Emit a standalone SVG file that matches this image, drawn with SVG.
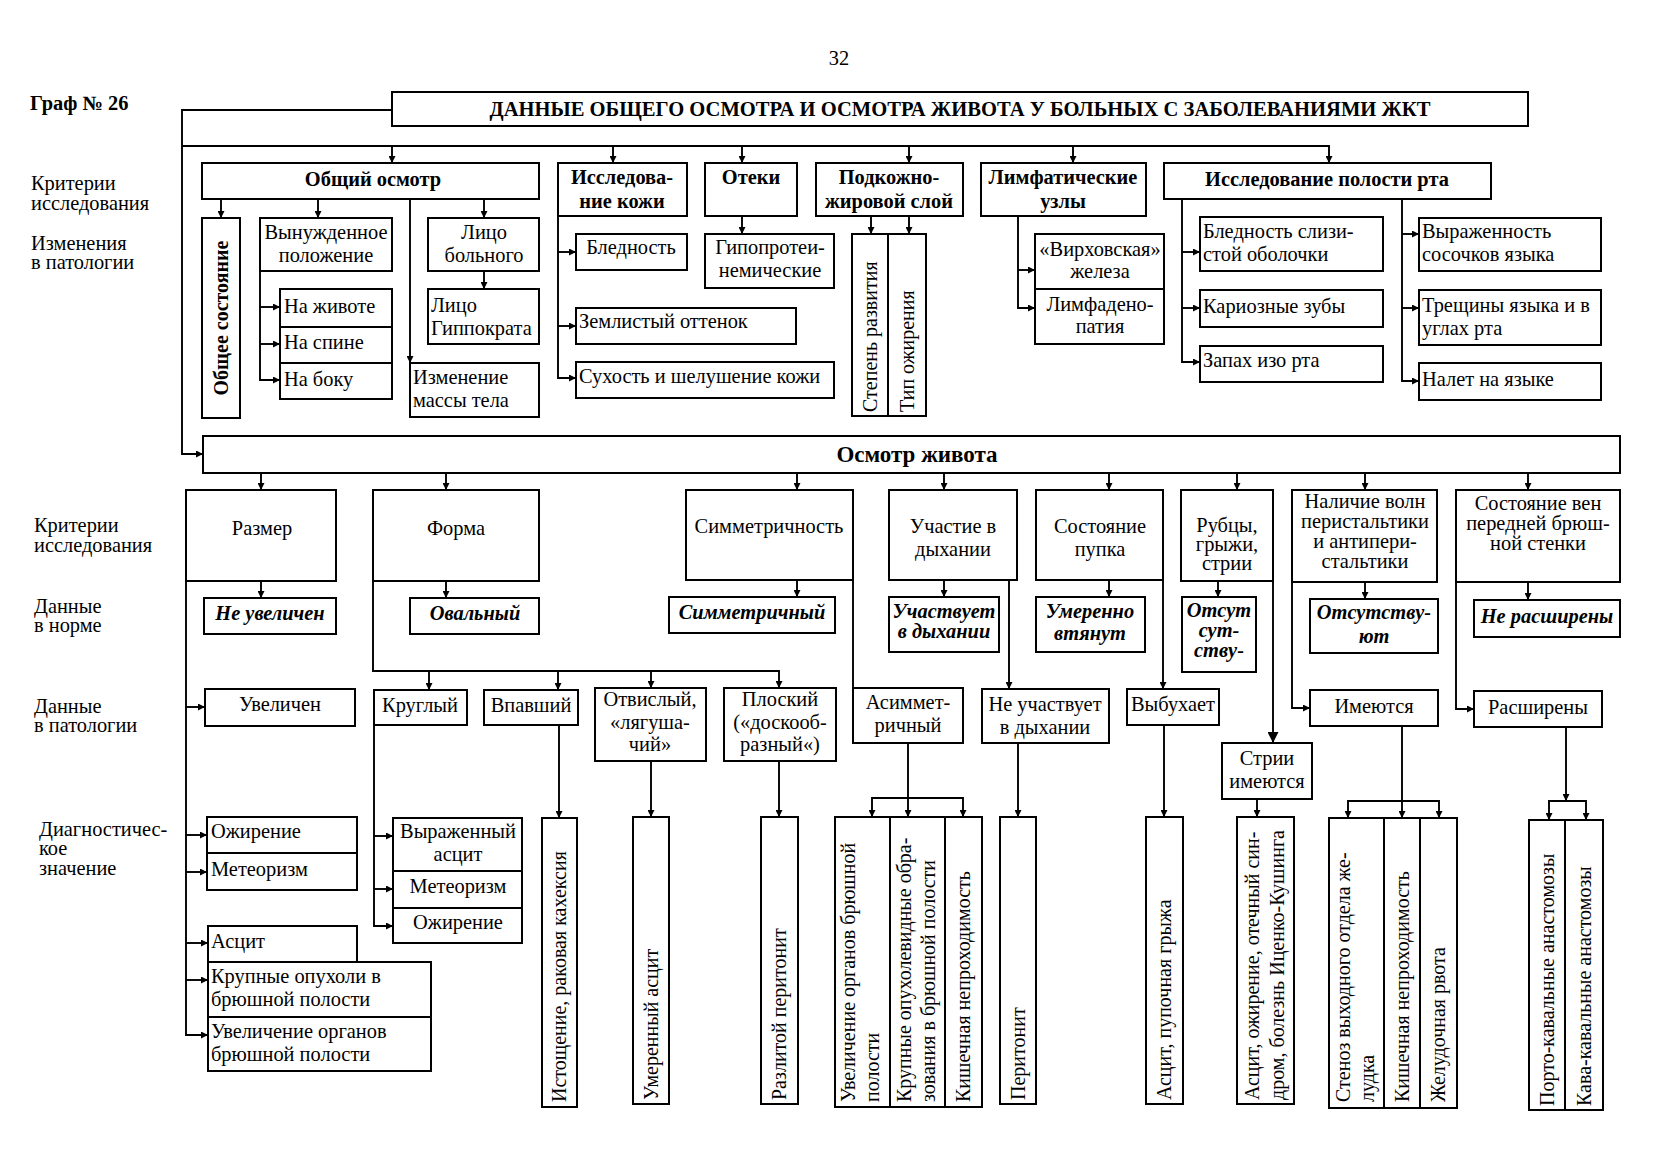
<svg xmlns="http://www.w3.org/2000/svg" width="1678" height="1164" viewBox="0 0 1678 1164">
<defs>
<marker id="arr" viewBox="0 0 10 10" refX="10" refY="5" markerWidth="9" markerHeight="7" orient="auto" markerUnits="userSpaceOnUse"><path d="M0,0 L10,5 L0,10 z" fill="#000"/></marker>
<marker id="arrb" viewBox="0 0 10 10" refX="10" refY="5" markerWidth="14" markerHeight="11" orient="auto" markerUnits="userSpaceOnUse"><path d="M0,0 L10,5 L0,10 z" fill="#000"/></marker>
</defs>
<style>
.b{fill:#fff;stroke:#000;stroke-width:2}
.c{fill:none;stroke:#000;stroke-width:1.9;marker-end:url(#arr)}
.l{fill:none;stroke:#000;stroke-width:1.9}
text{font-family:"Liberation Serif","Times New Roman",serif;font-size:20.4px;fill:#000}
text[transform]{font-size:20px}
.m{text-anchor:middle}
.bd{font-weight:bold}
.bi{font-weight:bold;font-style:italic}
</style>
<rect width="1678" height="1164" fill="#fff"/>

<g id="labels">
<text x="839" y="65" class="m">32</text>
<text x="30" y="110" class="bd">Граф № 26</text>
<text x="31" y="190">Критерии</text><text x="31" y="210">исследования</text>
<text x="31" y="250">Изменения</text><text x="31" y="269">в патологии</text>
<text x="34" y="532">Критерии</text><text x="34" y="552">исследования</text>
<text x="34" y="613">Данные</text><text x="34" y="632">в норме</text>
<text x="34" y="713">Данные</text><text x="34" y="732">в патологии</text>
<text x="39" y="836">Диагностичес-</text><text x="39" y="855">кое</text><text x="39" y="875">значение</text>
</g>

<g id="connectors">
<path class="c" d="M392,110 H182 V454 H203"/>
<path class="c" d="M182,146 H1329 V163"/>
<path class="c" d="M392,146 V163"/><path class="c" d="M613,146 V163"/><path class="c" d="M742,146 V163"/><path class="c" d="M909,146 V163"/><path class="c" d="M1073,146 V163"/>
<path class="c" d="M221,199 V218"/><path class="c" d="M318,199 V218"/><path class="c" d="M484,199 V218"/><path class="c" d="M410,199 V363"/>
<path class="c" d="M260,271 V380 H280"/><path class="c" d="M260,307 H280"/><path class="c" d="M260,344 H280"/>
<path class="c" d="M484,271 V289"/>
<path class="c" d="M558,216 V378 H576"/><path class="c" d="M558,252 H576"/><path class="c" d="M558,326 H576"/>
<path class="c" d="M742,216 V234"/>
<path class="c" d="M871,216 V234"/><path class="c" d="M909,216 V234"/>
<path class="c" d="M1018,216 V308 H1035"/><path class="c" d="M1018,270 H1035"/>
<path class="c" d="M1182,199 V362 H1200"/><path class="c" d="M1182,252 H1200"/><path class="c" d="M1182,308 H1200"/>
<path class="c" d="M1402,199 V381 H1419"/><path class="c" d="M1402,234 H1419"/><path class="c" d="M1402,308 H1419"/>
<path class="c" d="M261,473 V490"/><path class="c" d="M446,473 V490"/><path class="c" d="M797,473 V490"/><path class="c" d="M944,473 V490"/><path class="c" d="M1109,473 V490"/><path class="c" d="M1237,473 V490"/><path class="c" d="M1365,473 V490"/><path class="c" d="M1528,473 V490"/>
<path class="c" d="M261,581 V598"/>
<path class="c" d="M186,581 V1035 H208"/><path class="c" d="M186,707 H205"/><path class="c" d="M186,835 H207"/><path class="c" d="M186,872 H207"/><path class="c" d="M186,943 H208"/><path class="c" d="M186,980 H208"/>
<path class="c" d="M446,581 V598"/>
<path class="c" d="M373,581 V671 H779 V688"/><path class="c" d="M429,671 V690"/><path class="c" d="M558,671 V690"/><path class="c" d="M651,671 V688"/>
<path class="c" d="M374,725 V926 H393"/><path class="c" d="M374,836 H393"/><path class="c" d="M374,889 H393"/>
<path class="c" d="M559,725 V818"/><path class="c" d="M651,761 V817"/><path class="c" d="M779,761 V817"/>
<path class="c" d="M797,580 V597"/>
<path class="l" d="M853,580 V688"/>
<path class="c" d="M908,743 V817"/><path class="c" d="M908,798 H872 V817"/><path class="c" d="M908,798 H963 V817"/>
<path class="c" d="M944,580 V597"/><path class="c" d="M1009,580 V689"/>
<path class="c" d="M1018,743 V817"/>
<path class="c" d="M1109,580 V597"/><path class="c" d="M1163,580 V689"/><path class="c" d="M1164,725 V817"/>
<path class="c" d="M1218,581 V597"/>
<path class="l" d="M1273,581 V743" style="marker-end:url(#arrb)"/>
<path class="c" d="M1257,799 V817"/>
<path class="c" d="M1365,582 V599"/><path class="c" d="M1292,582 V708 H1310"/>
<path class="c" d="M1402,726 V818"/><path class="c" d="M1402,801 H1348 V818"/><path class="c" d="M1402,801 H1439 V818"/>
<path class="c" d="M1528,582 V600"/><path class="c" d="M1456,582 V709 H1474"/>
<path class="c" d="M1566,727 V801"/><path class="c" d="M1567,801 H1549 V820"/><path class="c" d="M1567,801 H1586 V820"/>
</g>

<g id="title"><rect class="b" x="392" y="92" width="1136" height="34"/><text x="960" y="116" class="m bd" textLength="941" lengthAdjust="spacingAndGlyphs">ДАННЫЕ ОБЩЕГО ОСМОТРА И ОСМОТРА ЖИВОТА У БОЛЬНЫХ С ЗАБОЛЕВАНИЯМИ ЖКТ</text></g>

<g id="obshiy"><rect class="b" x="202" y="163" width="337" height="36"/><text x="373" y="186" class="m bd">Общий осмотр</text></g>
<g id="obshee-sost"><rect class="b" x="202" y="218" width="38" height="200"/><text class="m bd" transform="translate(228,318) rotate(-90)">Общее состояние</text></g>
<g id="vynuzh"><rect class="b" x="260" y="218" width="132" height="53"/><text x="326" y="239" class="m">Вынужденное</text><text x="326" y="262" class="m">положение</text></g>
<g id="na-zhivote"><rect class="b" x="280" y="289" width="112" height="38"/><text x="284" y="313">На животе</text></g>
<g id="na-spine"><rect class="b" x="280" y="327" width="112" height="36"/><text x="284" y="349">На спине</text></g>
<g id="na-boku"><rect class="b" x="280" y="363" width="112" height="36"/><text x="284" y="386">На боку</text></g>
<g id="lico"><rect class="b" x="428" y="218" width="111" height="53"/><text x="484" y="239" class="m">Лицо</text><text x="484" y="262" class="m">больного</text></g>
<g id="gippokrat"><rect class="b" x="428" y="289" width="111" height="55"/><text x="431" y="312">Лицо</text><text x="431" y="335">Гиппократа</text></g>
<g id="massa"><rect class="b" x="410" y="363" width="129" height="54"/><text x="413" y="384">Изменение</text><text x="413" y="407">массы тела</text></g>

<g id="kozha"><rect class="b" x="558" y="163" width="129" height="53"/><text x="622" y="184" class="m bd">Исследова-</text><text x="622" y="208" class="m bd">ние кожи</text></g>
<g id="blednost"><rect class="b" x="576" y="234" width="111" height="36"/><text x="631" y="254" class="m">Бледность</text></g>
<g id="zemlist"><rect class="b" x="576" y="308" width="220" height="36"/><text x="579" y="328">Землистый оттенок</text></g>
<g id="suhost"><rect class="b" x="576" y="362" width="258" height="36"/><text x="579" y="383">Сухость и шелушение кожи</text></g>
<g id="oteki"><rect class="b" x="705" y="163" width="92" height="53"/><text x="751" y="184" class="m bd">Отеки</text></g>
<g id="gipoprot"><rect class="b" x="705" y="234" width="129" height="54"/><text x="770" y="254" class="m">Гипопротеи-</text><text x="770" y="277" class="m">немические</text></g>
<g id="podkozh"><rect class="b" x="816" y="163" width="147" height="53"/><text x="889" y="184" class="m bd">Подкожно-</text><text x="889" y="208" class="m bd">жировой слой</text></g>
<g id="stepen"><rect class="b" x="852" y="234" width="36" height="182"/><text transform="translate(877,412) rotate(-90)">Степень развития</text></g>
<g id="tip"><rect class="b" x="888" y="234" width="38" height="182"/><text transform="translate(914,412) rotate(-90)">Тип ожирения</text></g>
<g id="limf"><rect class="b" x="981" y="163" width="165" height="53"/><text x="1063" y="184" class="m bd">Лимфатические</text><text x="1063" y="208" class="m bd">узлы</text></g>
<g id="virh"><rect class="b" x="1035" y="234" width="129" height="55"/><text x="1100" y="256" class="m">«Вирховская»</text><text x="1100" y="278" class="m">железа</text></g>
<g id="limfaden"><rect class="b" x="1035" y="289" width="129" height="55"/><text x="1100" y="311" class="m">Лимфадено-</text><text x="1100" y="333" class="m">патия</text></g>
<g id="polost"><rect class="b" x="1164" y="163" width="327" height="36"/><text x="1327" y="186" class="m bd">Исследование полости рта</text></g>
<g id="bl-sliz"><rect class="b" x="1200" y="217" width="183" height="54"/><text x="1203" y="238">Бледность слизи-</text><text x="1203" y="261">стой оболочки</text></g>
<g id="karioz"><rect class="b" x="1200" y="290" width="183" height="37"/><text x="1203" y="313">Кариозные зубы</text></g>
<g id="zapah"><rect class="b" x="1200" y="346" width="183" height="36"/><text x="1203" y="367">Запах изо рта</text></g>
<g id="vyrazh"><rect class="b" x="1419" y="218" width="182" height="53"/><text x="1422" y="238">Выраженность</text><text x="1422" y="261">сосочков языка</text></g>
<g id="treshch"><rect class="b" x="1419" y="290" width="182" height="55"/><text x="1422" y="312">Трещины языка и в</text><text x="1422" y="335">углах рта</text></g>
<g id="nalet"><rect class="b" x="1419" y="363" width="182" height="37"/><text x="1422" y="386">Налет на языке</text></g>

<g id="osmotr"><rect class="b" x="203" y="436" width="1417" height="37"/><text x="917" y="462" class="m bd" style="font-size:23px">Осмотр живота</text></g>

<g id="razmer"><rect class="b" x="186" y="490" width="150" height="91"/><text x="262" y="535" class="m">Размер</text></g>
<g id="ne-uvel"><rect class="b" x="204" y="598" width="132" height="36"/><text x="270" y="620" class="m bi">Не увеличен</text></g>
<g id="uvel"><rect class="b" x="205" y="689" width="150" height="37"/><text x="280" y="711" class="m">Увеличен</text></g>
<g id="ozhir1"><rect class="b" x="207" y="817" width="150" height="36"/><text x="211" y="838">Ожирение</text></g>
<g id="meteor1"><rect class="b" x="207" y="853" width="150" height="37"/><text x="211" y="876">Метеоризм</text></g>
<g id="ascit1"><rect class="b" x="208" y="926" width="149" height="36"/><text x="211" y="948">Асцит</text></g>
<g id="krupn"><rect class="b" x="208" y="962" width="223" height="55"/><text x="211" y="983">Крупные опухоли в</text><text x="211" y="1006">брюшной полости</text></g>
<g id="uvel-org"><rect class="b" x="208" y="1017" width="223" height="54"/><text x="211" y="1038">Увеличение органов</text><text x="211" y="1061">брюшной полости</text></g>

<g id="forma"><rect class="b" x="373" y="490" width="166" height="91"/><text x="456" y="535" class="m">Форма</text></g>
<g id="oval"><rect class="b" x="410" y="598" width="129" height="36"/><text x="475" y="620" class="m bi">Овальный</text></g>
<g id="krugl"><rect class="b" x="374" y="690" width="93" height="35"/><text x="420" y="712" class="m">Круглый</text></g>
<g id="vpav"><rect class="b" x="484" y="690" width="94" height="35"/><text x="531" y="712" class="m">Впавший</text></g>
<g id="otvis"><rect class="b" x="595" y="688" width="111" height="73"/><text x="650" y="706" class="m">Отвислый,</text><text x="650" y="729" class="m">«лягуша-</text><text x="650" y="751" class="m">чий»</text></g>
<g id="plosk"><rect class="b" x="724" y="688" width="112" height="73"/><text x="780" y="706" class="m">Плоский</text><text x="780" y="729" class="m">(«доскооб-</text><text x="780" y="751" class="m">разный«)</text></g>
<g id="vyr-ascit"><rect class="b" x="393" y="818" width="129" height="53"/><text x="458" y="838" class="m">Выраженный</text><text x="458" y="861" class="m">асцит</text></g>
<g id="meteor2"><rect class="b" x="393" y="871" width="129" height="37"/><text x="458" y="893" class="m">Метеоризм</text></g>
<g id="ozhir2"><rect class="b" x="393" y="908" width="129" height="35"/><text x="458" y="929" class="m">Ожирение</text></g>
<g id="istoshch"><rect class="b" x="542" y="818" width="35" height="289"/><text transform="translate(566,1102) rotate(-90)">Истощение, раковая кахексия</text></g>
<g id="umer-ascit"><rect class="b" x="633" y="817" width="36" height="287"/><text transform="translate(658,1100) rotate(-90)">Умеренный асцит</text></g>
<g id="razlit"><rect class="b" x="761" y="817" width="37" height="287"/><text transform="translate(786,1100) rotate(-90)">Разлитой перитонит</text></g>

<g id="simm"><rect class="b" x="686" y="490" width="167" height="90"/><text x="769" y="533" class="m">Симметричность</text></g>
<g id="simm-n"><rect class="b" x="669" y="597" width="166" height="36"/><text x="752" y="619" class="m bi">Симметричный</text></g>
<g id="asimm"><rect class="b" x="853" y="688" width="110" height="55"/><text x="908" y="709" class="m">Асиммет-</text><text x="908" y="732" class="m">ричный</text></g>
<g id="uvel-org2"><rect class="b" x="835" y="817" width="55" height="290"/><text transform="translate(855,1102) rotate(-90)">Увеличение органов брюшной<tspan x="0" dy="24">полости</tspan></text></g>
<g id="krupn2"><rect class="b" x="890" y="817" width="55" height="290"/><text transform="translate(911,1102) rotate(-90)">Крупные опухолевидные обра-<tspan x="0" dy="24">зования в брюшной полости</tspan></text></g>
<g id="kish1"><rect class="b" x="945" y="817" width="37" height="290"/><text transform="translate(970,1102) rotate(-90)">Кишечная непроходимость</text></g>

<g id="uchast"><rect class="b" x="889" y="490" width="128" height="90"/><text x="953" y="533" class="m">Участие в</text><text x="953" y="556" class="m">дыхании</text></g>
<g id="uchastv"><rect class="b" x="889" y="597" width="110" height="55"/><text x="944" y="618" class="m bi">Участвует</text><text x="944" y="638" class="m bi">в дыхании</text></g>
<g id="ne-uchast"><rect class="b" x="982" y="689" width="127" height="54"/><text x="1045" y="711" class="m">Не участвует</text><text x="1045" y="734" class="m">в дыхании</text></g>
<g id="peritonit"><rect class="b" x="1000" y="817" width="36" height="287"/><text transform="translate(1025,1100) rotate(-90)">Перитонит</text></g>

<g id="pupok"><rect class="b" x="1036" y="490" width="127" height="90"/><text x="1100" y="533" class="m">Состояние</text><text x="1100" y="556" class="m">пупка</text></g>
<g id="umerenno"><rect class="b" x="1036" y="597" width="109" height="55"/><text x="1090" y="618" class="m bi">Умеренно</text><text x="1090" y="640" class="m bi">втянут</text></g>
<g id="vybuh"><rect class="b" x="1127" y="689" width="92" height="36"/><text x="1173" y="711" class="m">Выбухает</text></g>
<g id="ascit-pup"><rect class="b" x="1146" y="817" width="37" height="287"/><text transform="translate(1171,1100) rotate(-90)">Асцит, пупочная грыжа</text></g>

<g id="rubcy"><rect class="b" x="1181" y="490" width="92" height="91"/><text x="1227" y="532" class="m">Рубцы,</text><text x="1227" y="551" class="m">грыжи,</text><text x="1227" y="570" class="m">стрии</text></g>
<g id="otsut"><rect class="b" x="1182" y="597" width="74" height="75"/><text x="1219" y="617" class="m bi">Отсут</text><text x="1219" y="637" class="m bi">сут-</text><text x="1219" y="657" class="m bi">ству-</text></g>
<g id="strii"><rect class="b" x="1222" y="743" width="90" height="56"/><text x="1267" y="765" class="m">Стрии</text><text x="1267" y="788" class="m">имеются</text></g>
<g id="ascit-ozh"><rect class="b" x="1237" y="817" width="57" height="287"/><text transform="translate(1259,1100) rotate(-90)">Асцит, ожирение, отечный син-<tspan x="0" dy="25">дром, болезнь Иценко-Кушинга</tspan></text></g>

<g id="nalich"><rect class="b" x="1292" y="490" width="145" height="92"/><text x="1365" y="508" class="m">Наличие волн</text><text x="1365" y="528" class="m">перистальтики</text><text x="1365" y="548" class="m">и антипери-</text><text x="1365" y="568" class="m">стальтики</text></g>
<g id="otsutstv"><rect class="b" x="1310" y="599" width="128" height="54"/><text x="1374" y="619" class="m bi">Отсутству-</text><text x="1374" y="643" class="m bi">ют</text></g>
<g id="imeyutsya"><rect class="b" x="1310" y="690" width="128" height="36"/><text x="1374" y="713" class="m">Имеются</text></g>
<g id="stenoz"><rect class="b" x="1329" y="818" width="55" height="290"/><text transform="translate(1350,1102) rotate(-90)">Стеноз выходного отдела же-<tspan x="0" dy="24">лудка</tspan></text></g>
<g id="kish2"><rect class="b" x="1384" y="818" width="36" height="290"/><text transform="translate(1409,1102) rotate(-90)">Кишечная непроходимость</text></g>
<g id="rvota"><rect class="b" x="1420" y="818" width="37" height="290"/><text transform="translate(1445,1102) rotate(-90)">Желудочная рвота</text></g>

<g id="veny"><rect class="b" x="1456" y="490" width="164" height="92"/><text x="1538" y="510" class="m">Состояние вен</text><text x="1538" y="530" class="m">передней брюш-</text><text x="1538" y="550" class="m">ной стенки</text></g>
<g id="ne-rassh"><rect class="b" x="1474" y="600" width="146" height="37"/><text x="1547" y="623" class="m bi">Не расширены</text></g>
<g id="rassh"><rect class="b" x="1474" y="691" width="128" height="36"/><text x="1538" y="714" class="m">Расширены</text></g>
<g id="porto"><rect class="b" x="1529" y="820" width="36" height="290"/><text transform="translate(1554,1106) rotate(-90)">Порто-кавальные анастомозы</text></g>
<g id="kava"><rect class="b" x="1565" y="820" width="38" height="290"/><text transform="translate(1591,1106) rotate(-90)">Кава-кавальные анастомозы</text></g>
</svg>
